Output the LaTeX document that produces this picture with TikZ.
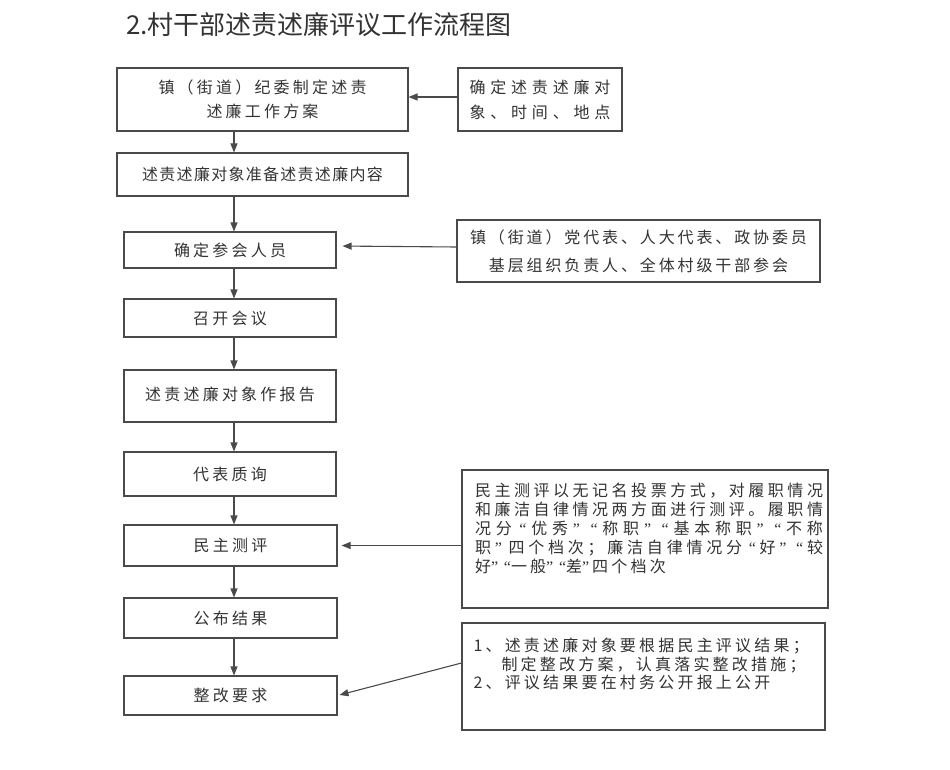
\documentclass[tikz,border=0pt]{standalone}
\usepackage{fontspec}
\usetikzlibrary{arrows.meta}
\newfontfamily\cjk{Noto Sans CJK SC}
\newfontfamily\qfont{Liberation Serif}
\definecolor{lc}{HTML}{4A4A4A}
\definecolor{tc}{HTML}{333333}
\newcommand\zlq{\makebox[10pt][r]{\qfont “}}
\newcommand\zrq{\makebox[10pt][l]{\qfont ”}}
\def\jlx#1#2{#1\ifx\relax#2\else\hfil\expandafter\jlx\expandafter#2\fi}
\newcommand\jline[1]{\hbox{\kern8pt\hbox to 348pt{\jlx#1\relax}}}
\newcommand\nline[1]{\hbox{\kern8pt#1}}
\tikzset{
  box/.style={draw=lc, line width=1.1pt, inner sep=0pt, text=tc, align=center,
    font=\cjk\fontsize{16pt}{24pt}\selectfont\addfontfeatures{LetterSpace=20}},
  arr/.style={draw=lc, line width=1.1pt, -{Triangle[length=9pt,width=7pt]}},
}
\begin{document}
\begin{tikzpicture}[x=1pt,y=-1pt]
\useasboundingbox[fill=white] (0,0) rectangle (950,770);
\node[anchor=west, inner sep=0pt, text=tc, font=\cjk\fontsize{26pt}{30pt}\selectfont] (title) at (126,25) {2.村干部述责述廉评议工作流程图};
\coordinate (ax) at (234,0);
% left column
\node[box, minimum width=291, minimum height=63] (b1) at (262.5,99.5) {镇（街道）纪委制定述责\\述廉工作方案};
\node[box, minimum width=291, minimum height=43, font=\cjk\fontsize{16pt}{24pt}\selectfont\addfontfeatures{LetterSpace=8}] (b2) at (262.5,174.5) {述责述廉对象准备述责述廉内容};
\node[box, minimum width=212, minimum height=36] (b3) at (230,250) {确定参会人员};
\node[box, minimum width=212, minimum height=38] (b4) at (230,318) {召开会议};
\node[box, minimum width=212, minimum height=52] (b5) at (230,396) {\raisebox{5pt}{述责述廉对象作报告}};
\node[box, minimum width=212, minimum height=44] (b6) at (230,474) {代表质询};
\node[box, minimum width=213, minimum height=41] (b7) at (230.5,545.5) {民主测评};
\node[box, minimum width=213, minimum height=40] (b8) at (230.5,618) {公布结果};
\node[box, minimum width=213, minimum height=39] (b9) at (230.5,695.5) {整改要求};
% right column
\node[box, minimum width=164, minimum height=63, font=\cjk\fontsize{16pt}{25pt}\selectfont\addfontfeatures{LetterSpace=30}] (r1) at (540,99.5) {确定述责述廉对\\象、时间、地点};
\node[box, minimum width=363, minimum height=62, font=\cjk\fontsize{16pt}{28pt}\selectfont\addfontfeatures{LetterSpace=18}] (r3) at (638.5,251) {镇（街道）党代表、人大代表、政协委员\\基层组织负责人、全体村级干部参会};
\node[box, minimum width=366, minimum height=138, align=left, font=\cjk\fontsize{16pt}{19pt}\selectfont\addfontfeatures{LetterSpace=20}] (r7) at (645,539) {\jline{民主测评以无记名投票方式，对履职情况}\\\jline{和廉洁自律情况两方面进行测评。履职情}\\\jline{况分\zlq 优秀\zrq\zlq 称职\zrq\zlq 基本称职\zrq\zlq 不称}\\\jline{职\zrq 四个档次；廉洁自律情况分\zlq 好\zrq\zlq 较}\\\nline{好\zrq\zlq 一般\zrq\zlq 差\zrq 四个档次}\\[4pt]\mbox{}};
\node[box, minimum width=363, minimum height=107, align=left, text width=340, font=\cjk\fontsize{16pt}{18.5pt}\selectfont\addfontfeatures{LetterSpace=20}] (r9) at (643.5,676.5) {1、述责述廉对象要根据民主评议结果；\\\hspace*{28pt}制定整改方案，认真落实整改措施；\\2、评议结果要在村务公开报上公开\\[8pt]\mbox{}};
% vertical connectors
\draw[arr] (b1.south -| ax) -- (b2.north -| ax);
\draw[arr] (b2.south -| ax) -- (b3.north -| ax);
\draw[arr] (b3.south -| ax) -- (b4.north -| ax);
\draw[arr] (b4.south -| ax) -- (b5.north -| ax);
\draw[arr] (b5.south -| ax) -- (b6.north -| ax);
\draw[arr] (b6.south -| ax) -- (b7.north -| ax);
\draw[arr] (b7.south -| ax) -- (b8.north -| ax);
\draw[arr] (b8.south -| ax) -- (b9.north -| ax);
% horizontal connectors
\draw[arr] ([yshift=2.5pt]r1.west) -- ([yshift=2.5pt]b1.east);
\draw[arr, shorten >=6pt] ([yshift=4pt]r3.west) -- ([yshift=4pt]b3.east);
\draw[arr, shorten >=4pt] (r7.west |- b7.east) -- (b7.east);
\draw[arr, shorten >=2pt] ([yshift=13.5pt]r9.west) -- (b9.east);
\end{tikzpicture}
\end{document}
